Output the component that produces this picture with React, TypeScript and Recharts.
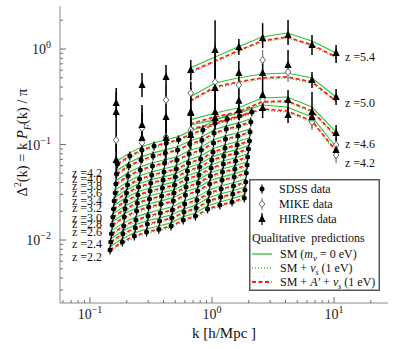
import React from 'react';
import { ComposedChart, Line, Scatter, XAxis, YAxis, ErrorBar, ReferenceDot, Legend } from 'recharts';

const FONT = '"Liberation Serif", "Times New Roman", Times, serif';
const GREEN = '#34c134';
const RED = '#ff1c1c';
const FRAME = '#8c8c8c';
const TICK_COLOR = '#6f6f6f';

// ---------- SDSS (z = 2.2 ... 4.2) ----------
const SDSS_Z = ['2.2', '2.4', '2.6', '2.8', '3.0', '3.2', '3.4', '3.6', '3.8', '4.0', '4.2'];

const K_22 = [0.146, 0.184, 0.231, 0.291, 0.367, 0.462, 0.581, 0.732, 0.921, 1.16, 1.46, 1.84];
const K_24 = [0.148, 0.186, 0.235, 0.295, 0.372, 0.468, 0.589, 0.742, 0.934, 1.18, 1.48, 1.86];
const K_26 = [0.15, 0.189, 0.238, 0.299, 0.377, 0.474, 0.597, 0.752, 0.947, 1.19, 1.5, 1.89];
const K_28 = [0.152, 0.191, 0.241, 0.303, 0.382, 0.481, 0.605, 0.762, 0.959, 1.21, 1.52, 1.91];
const K_30 = [0.154, 0.194, 0.244, 0.307, 0.387, 0.487, 0.613, 0.772, 0.972, 1.22, 1.54, 1.94];
const K_32 = [0.156, 0.196, 0.247, 0.311, 0.392, 0.493, 0.621, 0.782, 0.984, 1.24, 1.56, 1.96];
const K_34 = [0.158, 0.199, 0.25, 0.315, 0.397, 0.5, 0.629, 0.792, 0.997, 1.25, 1.58, 1.99];
const K_36 = [0.161, 0.203, 0.255, 0.321, 0.404, 0.509, 0.641, 0.807, 1.02, 1.28, 1.61, 2.03];
const K_38 = [0.163, 0.205, 0.258, 0.325, 0.409, 0.515, 0.649, 0.817, 1.03, 1.29, 1.63, 2.05];
const K_40 = [0.165, 0.208, 0.262, 0.329, 0.414, 0.522, 0.657, 0.827, 1.04, 1.31, 1.65, 2.08];
const K_42 = [0.168, 0.212, 0.266, 0.335, 0.422, 0.531, 0.669, 0.842, 1.06, 1.33, 1.68, 2.12];

const D_22 = [0.00786, 0.00953, 0.011, 0.0121, 0.013, 0.014, 0.0162, 0.0178, 0.0211, 0.0232, 0.025, 0.0275];
const D_24 = [0.00953, 0.0116, 0.0134, 0.0147, 0.0158, 0.017, 0.0196, 0.0216, 0.0256, 0.0282, 0.0303, 0.0333];
const D_26 = [0.0116, 0.014, 0.0162, 0.0178, 0.0192, 0.0206, 0.0238, 0.0262, 0.031, 0.0342, 0.0368, 0.0405];
const D_28 = [0.0144, 0.0174, 0.0201, 0.0222, 0.0238, 0.0256, 0.0296, 0.0326, 0.0386, 0.0424, 0.0456, 0.0503];
const D_30 = [0.0174, 0.0211, 0.0244, 0.0269, 0.0289, 0.031, 0.0359, 0.0396, 0.0468, 0.0515, 0.0554, 0.061];
const D_32 = [0.0211, 0.0256, 0.0296, 0.0326, 0.035, 0.0376, 0.0435, 0.0479, 0.0567, 0.0625, 0.0672, 0.074];
const D_34 = [0.0256, 0.031, 0.0359, 0.0396, 0.0424, 0.0456, 0.0528, 0.0581, 0.0687, 0.0757, 0.0814, 0.0897];
const D_36 = [0.031, 0.0376, 0.0435, 0.0479, 0.0515, 0.0554, 0.064, 0.0704, 0.0834, 0.0919, 0.0988, 0.109];
const D_38 = [0.0386, 0.0468, 0.054, 0.0596, 0.064, 0.0687, 0.0795, 0.0875, 0.104, 0.114, 0.123, 0.135];
const D_40 = [0.0491, 0.0596, 0.0687, 0.0757, 0.0814, 0.0875, 0.101, 0.111, 0.132, 0.145, 0.156, 0.172];
const D_42 = [0.0625, 0.0757, 0.0875, 0.0964, 0.104, 0.112, 0.129, 0.142, 0.168, 0.185, 0.199, 0.219];

const SDSS_K = [K_22, K_24, K_26, K_28, K_30, K_32, K_34, K_36, K_38, K_40, K_42];
const SDSS_D = [D_22, D_24, D_26, D_28, D_30, D_32, D_34, D_36, D_38, D_40, D_42];

// qualitative model suppression relative to the plotted reference values
const MODEL_RATIO_SDSS = { sm: 1.08, nus: 0.965, aprime: 1.0 };
const MODEL_RATIO_HIRES = { sm: 1.0, nus: 0.885, aprime: 0.91 };

// ---------- HIRES / MIKE (z = 4.2 ... 5.4) ----------
const HR_Z = ['4.2', '4.6', '5.0', '5.4'];
const HR_K = [0.66, 1.06, 1.63, 2.57, 4.12, 6.6, 10.4];
const HR_SM_42 = [0.16, 0.181, 0.214, 0.259, 0.247, 0.194, 0.0942];
const HR_SM_46 = [0.181, 0.214, 0.241, 0.307, 0.314, 0.247, 0.135];
const HR_SM_50 = [0.314, 0.441, 0.497, 0.547, 0.561, 0.497, 0.314];
const HR_SM_54 = [0.632, 0.824, 1.05, 1.336, 1.47, 1.213, 0.908];
const HR_SM = [HR_SM_42, HR_SM_46, HR_SM_50, HR_SM_54];

// [k, Δ², error low, error high]
const HIRES_54 = [
  [0.164, 0.272, 0.082, 0.118], [0.267, 0.42, 0.105, 0.141], [0.42, 0.509, 0.154, 0.171],
  [0.67, 0.603, 0.129, 0.165], [1.06, 0.976, 0.555, 1.03], [1.66, 1.05, 0.185, 0.224],
  [2.6, 1.3, 0.278, 0.566], [4.2, 1.4, 0.3, 0.609], [6.6, 1.1, 0.235, 0.3], [10.4, 0.908, 0.194, 0.193],
];
const HIRES_50 = [
  [0.164, 0.219, 0.135, 0.136], [0.267, 0.16, 0.061, 0.099], [0.42, 0.194, 0.074, 0.16],
  [0.67, 0.214, 0.097, 0.177], [1.06, 0.391, 0.222, 0.516], [1.66, 0.561, 0.141, 0.188],
  [2.6, 0.561, 0.12, 0.188], [4.2, 0.68, 0.146, 0.296], [6.6, 0.474, 0.083, 0.101], [10.4, 0.314, 0.055, 0.067],
];
const HIRES_46 = [
  [0.164, 0.0689, 0.026, 0.043], [0.267, 0.117, 0.053, 0.097], [0.42, 0.117, 0.053, 0.072],
  [0.67, 0.219, 0.113, 0.232], [1.06, 0.219, 0.066, 0.136], [1.66, 0.287, 0.066, 0.103],
  [2.6, 0.33, 0.071, 0.111], [4.2, 0.292, 0.062, 0.08], [6.6, 0.219, 0.055, 0.136], [10.4, 0.132, 0.023, 0.028],
];
const HIRES_42 = [
  [0.67, 0.126, 0.038, 0.055], [1.06, 0.189, 0.047, 0.063], [1.66, 0.23, 0.049, 0.063],
  [2.6, 0.241, 0.052, 0.066], [4.2, 0.204, 0.036, 0.043], [6.6, 0.194, 0.034, 0.041], [10.4, 0.0876, 0.0118, 0.0137],
];
const MIKE_54 = [[0.42, 0.292, 0.088, 0.127], [1.06, 0.451, 0.232, 0.73], [2.6, 0.767, 0.164, 0.209]];
const MIKE_50 = [
  [0.164, 0.111, 0.05, 0.069], [0.267, 0.149, 0.057, 0.092], [0.67, 0.346, 0.157, 0.286],
  [1.66, 0.42, 0.09, 0.115], [4.2, 0.574, 0.123, 0.157],
];
const MIKE_46 = [
  [0.164, 0.0656, 0.02, 0.029], [0.267, 0.104, 0.032, 0.045], [0.42, 0.12, 0.036, 0.052],
  [0.67, 0.142, 0.043, 0.062], [2.6, 0.292, 0.062, 0.08], [6.6, 0.189, 0.04, 0.052], [10.4, 0.0988, 0.017, 0.021],
];
const MIKE_42 = [[6.6, 0.172, 0.03, 0.037], [10.4, 0.0776, 0.014, 0.017]];

// ---------- axes ----------
const X_DOMAIN = [0.0568, 27.7];
const Y_DOMAIN = [0.00219, 2.82];
const X_MAJOR = [0.1, 1, 10];
const X_MINOR = [0.06, 0.07, 0.08, 0.09, 0.2, 0.3, 0.4, 0.5, 0.6, 0.7, 0.8, 0.9, 2, 3, 4, 5, 6, 7, 8, 9, 20];
const Y_MAJOR = [0.01, 0.1, 1];
const Y_MINOR = [0.003, 0.004, 0.005, 0.006, 0.007, 0.008, 0.009, 0.02, 0.03, 0.04, 0.05, 0.06, 0.07, 0.08, 0.09, 0.2, 0.3, 0.4, 0.5, 0.6, 0.7, 0.8, 0.9, 2];
const EXPONENT: Record<string, string> = { '0.01': '\u22122', '0.1': '\u22121', '1': '0', '10': '1' };
const X_TICKS = [...X_MAJOR, ...X_MINOR].sort((a, b) => a - b);
const Y_TICKS = [...Y_MAJOR, ...Y_MINOR].sort((a, b) => a - b);

// redshift text labels: [z, k, Δ²]
const LEFT_LABELS: [string, number, number][] = [
  ['4.2', 0.0712, 0.0503], ['4.0', 0.0712, 0.0435], ['3.8', 0.0712, 0.0368], ['3.6', 0.0712, 0.031],
  ['3.4', 0.0712, 0.0256], ['3.2', 0.0712, 0.0216], ['3.0', 0.0712, 0.017], ['2.8', 0.0712, 0.0147],
  ['2.6', 0.0712, 0.0121], ['2.4', 0.0712, 0.00908], ['2.2', 0.0712, 0.00664],
];
const RIGHT_LABELS: [string, number, number][] = [
  ['5.4', 12.3, 0.824], ['5.0', 12.3, 0.272], ['4.6', 12.3, 0.101], ['4.2', 12.3, 0.064],
];

// ---------- derived series ----------
type Pt = { k: number; d: number; e?: number[] };
const lineSeries: { key: string; kind: 'sm' | 'nus' | 'aprime'; data: Pt[] }[] = [];
const KINDS: ('sm' | 'nus' | 'aprime')[] = ['sm', 'nus', 'aprime'];
SDSS_Z.forEach((z, i) => {
  KINDS.forEach((kind) => {
    lineSeries.push({
      key: `sdss-${kind}-${z}`,
      kind,
      data: SDSS_K[i].map((k, j) => ({ k, d: SDSS_D[i][j] * MODEL_RATIO_SDSS[kind] })),
    });
  });
});
HR_Z.forEach((z, i) => {
  KINDS.forEach((kind) => {
    lineSeries.push({
      key: `hr-${kind}-${z}`,
      kind,
      data: HR_K.map((k, j) => ({ k, d: HR_SM[i][j] * MODEL_RATIO_HIRES[kind] })),
    });
  });
});
const sdssPoints: Pt[] = [];
SDSS_Z.forEach((_, i) => SDSS_K[i].forEach((k, j) => sdssPoints.push({ k, d: SDSS_D[i][j] })));
const toPt = (r: number[]): Pt => ({ k: r[0], d: r[1], e: [r[2], r[3]] });
const hiresPoints = [...HIRES_42, ...HIRES_46, ...HIRES_50, ...HIRES_54].map(toPt);
const mikePoints = [...MIKE_42, ...MIKE_46, ...MIKE_50, ...MIKE_54].map(toPt);

const lineStyle = (kind: string) => {
  if (kind === 'sm') return { stroke: GREEN, strokeWidth: 1.1 };
  if (kind === 'nus') return { stroke: GREEN, strokeWidth: 1.3, strokeDasharray: '1 2' };
  return { stroke: RED, strokeWidth: 1.7, strokeDasharray: '4 2.5' };
};

// ---------- markers ----------
const SdssMarker = (p: any) => (
  <g>
    <line x1={p.cx} x2={p.cx} y1={p.cy - 4.5} y2={p.cy + 4.5} stroke="#000" strokeWidth={1.2} />
    <circle cx={p.cx} cy={p.cy} r={2.5} fill="#000" />
  </g>
);
const HiresMarker = (p: any) => (
  <polygon
    points={`${p.cx},${p.cy - 4.5} ${p.cx - 3.6},${p.cy + 3} ${p.cx + 3.6},${p.cy + 3}`}
    fill="#000"
  />
);
const MikeMarker = (p: any) => (
  <polygon
    points={`${p.cx},${p.cy - 3.6} ${p.cx + 2.8},${p.cy} ${p.cx},${p.cy + 3.6} ${p.cx - 2.8},${p.cy}`}
    fill="#fff"
    stroke="#6a6a6a"
    strokeWidth={1}
  />
);

// ---------- ticks ----------
const BottomTick = (p: any) => {
  const v = p.payload.value;
  const major = X_MAJOR.includes(v);
  return (
    <g>
      <line x1={p.x} x2={p.x} y1={p.y} y2={p.y - (major ? 6 : 3)} stroke={TICK_COLOR} />
      {major && (
        <text x={p.x} y={p.y + 16} textAnchor="middle" fontFamily={FONT} fontSize={14} fill="#222">
          10<tspan dy={-6} fontSize={10}>{EXPONENT[String(v)]}</tspan>
        </text>
      )}
    </g>
  );
};
const TopTick = (p: any) => {
  const major = X_MAJOR.includes(p.payload.value);
  return <line x1={p.x} x2={p.x} y1={p.y} y2={p.y + (major ? 6 : 3)} stroke={TICK_COLOR} />;
};
const LeftTick = (p: any) => {
  const v = p.payload.value;
  const major = Y_MAJOR.includes(v);
  return (
    <g>
      <line x1={p.x} x2={p.x + (major ? 6 : 3)} y1={p.y} y2={p.y} stroke={TICK_COLOR} />
      {major && (
        <text x={p.x - 9} y={p.y + 5} textAnchor="end" fontFamily={FONT} fontSize={14} fill="#222">
          10<tspan dy={-6} fontSize={10}>{EXPONENT[String(v)]}</tspan>
        </text>
      )}
    </g>
  );
};
const RightTick = (p: any) => {
  const major = Y_MAJOR.includes(p.payload.value);
  return <line x1={p.x} x2={p.x - (major ? 6 : 3)} y1={p.y} y2={p.y} stroke={TICK_COLOR} />;
};

const XLabel = (p: any) => {
  const vb = p.viewBox;
  return (
    <text x={vb.x + vb.width / 2} y={vb.y + 35} textAnchor="middle" fontFamily={FONT} fontSize={15} fill="#111">
      k [h/Mpc ]
    </text>
  );
};
const YLabel = (p: any) => {
  const vb = p.viewBox;
  const cx = vb.x + 27;
  const cy = vb.y + vb.height / 2 - 12;
  return (
    <text
      x={cx}
      y={cy}
      transform={`rotate(-90, ${cx}, ${cy})`}
      textAnchor="middle"
      fontFamily={FONT}
      fontSize={14.5}
      fill="#111"
    >
      Δ<tspan dy={-6} fontSize={9.5}>2</tspan>
      <tspan dy={6}>(k) = k </tspan>
      <tspan fontStyle="italic">P</tspan>
      <tspan dy={4} fontSize={10} fontStyle="italic">F</tspan>
      <tspan dy={-4}>(k) / π</tspan>
    </text>
  );
};

const LegendBox = () => (
  <svg width={131} height={112} style={{ display: 'block' }}>
    <rect x={0.75} y={0.75} width={129.5} height={110.5} fill="#fff" stroke="#555" strokeWidth={1.5} />
    <g fontFamily={FONT} fontSize={12} fill="#111">
      <SdssMarker cx={13} cy={10} />
      <text x={30} y={14}>SDSS data</text>
      <line x1={13} x2={13} y1={19} y2={31} stroke="#777" />
      <MikeMarker cx={13} cy={25} />
      <text x={30} y={29}>MIKE data</text>
      <line x1={13} x2={13} y1={34} y2={46} stroke="#000" strokeWidth={1.2} />
      <HiresMarker cx={13} cy={40} />
      <text x={30} y={44}>HIRES data</text>
      <text x={3} y={63}>
        Qualitative<tspan dx={6}>predictions</tspan>
      </text>
      <line x1={3} x2={23} y1={75} y2={75} stroke={GREEN} strokeWidth={1.3} />
      <text x={31} y={79}>
        SM (<tspan fontStyle="italic">m</tspan>
        <tspan dy={3} fontSize={9} fontStyle="italic">ν</tspan>
        <tspan dy={-3}> = 0 eV)</tspan>
      </text>
      <line x1={3} x2={23} y1={89} y2={89} stroke={GREEN} strokeWidth={1.3} strokeDasharray="1 2" />
      <text x={31} y={93}>
        SM + <tspan fontStyle="italic">ν</tspan>
        <tspan dy={3} fontSize={8} fontStyle="italic">s</tspan>
        <tspan dy={-3}> (1 eV)</tspan>
      </text>
      <line x1={3} x2={23} y1={103} y2={103} stroke={RED} strokeWidth={2} strokeDasharray="4 2.5" />
      <text x={31} y={107}>
        SM + <tspan fontStyle="italic">A′</tspan> + <tspan fontStyle="italic">ν</tspan>
        <tspan dy={3} fontSize={8} fontStyle="italic">s</tspan>
        <tspan dy={-3}> (1 eV)</tspan>
      </text>
    </g>
  </svg>
);

const zText = (label: string) => (p: any) => (
  <text x={p.cx} y={p.cy} dy={4} textAnchor="start" fontFamily={FONT} fontSize={12} fill="#111">
    {'z =' + label}
  </text>
);

export default function App() {
  return (
    <div style={{ position: 'absolute', left: 0, top: 0, width: 395, height: 349, background: '#fff' }}>
      <ComposedChart width={395} height={349} margin={{ top: 6, right: 7, bottom: 0, left: 0 }}>
        <XAxis
          dataKey="k"
          type="number"
          scale="log"
          domain={X_DOMAIN}
          allowDataOverflow
          ticks={X_TICKS}
          interval={0}
          height={46}
          tickSize={0}
          tickMargin={0}
          tickLine={false}
          tick={BottomTick}
          axisLine={{ stroke: FRAME }}
          label={{ content: XLabel }}
        />
        <XAxis
          xAxisId="top"
          orientation="top"
          type="number"
          scale="log"
          domain={X_DOMAIN}
          allowDataOverflow
          ticks={X_TICKS}
          interval={0}
          height={0}
          tickSize={0}
          tickMargin={0}
          tickLine={false}
          tick={TopTick}
          axisLine={{ stroke: FRAME }}
        />
        <YAxis
          dataKey="d"
          type="number"
          scale="log"
          domain={Y_DOMAIN}
          allowDataOverflow
          ticks={Y_TICKS}
          interval={0}
          width={60}
          tickSize={0}
          tickMargin={0}
          tickLine={false}
          tick={LeftTick}
          axisLine={{ stroke: FRAME }}
          label={{ content: YLabel }}
        />
        <YAxis
          yAxisId="right"
          orientation="right"
          type="number"
          scale="log"
          domain={Y_DOMAIN}
          allowDataOverflow
          ticks={Y_TICKS}
          interval={0}
          width={0}
          tickSize={0}
          tickMargin={0}
          tickLine={false}
          tick={RightTick}
          axisLine={{ stroke: FRAME }}
        />
        {lineSeries.map((s) => (
          <Line
            key={s.key}
            data={s.data}
            dataKey="d"
            type="linear"
            dot={false}
            activeDot={false}
            isAnimationActive={false}
            {...lineStyle(s.kind)}
          />
        ))}
        <Scatter data={mikePoints} dataKey="d" shape={MikeMarker} isAnimationActive={false}>
          <ErrorBar dataKey="e" direction="y" width={0} stroke="#777" strokeWidth={1.2} />
        </Scatter>
        <Scatter data={hiresPoints} dataKey="d" shape={HiresMarker} isAnimationActive={false}>
          <ErrorBar dataKey="e" direction="y" width={0} stroke="#000" strokeWidth={1.5} />
        </Scatter>
        <Scatter data={sdssPoints} dataKey="d" shape={SdssMarker} isAnimationActive={false} />
        {LEFT_LABELS.map(([z, k, d]) => (
          <ReferenceDot key={`l-${z}`} x={k} y={d} r={0} shape={zText(z)} />
        ))}
        {RIGHT_LABELS.map(([z, k, d]) => (
          <ReferenceDot key={`r-${z}`} x={k} y={d} r={0} shape={zText(z)} />
        ))}
        <Legend
          verticalAlign="middle"
          align="center"
          layout="horizontal"
          content={() => <LegendBox />}
          wrapperStyle={{ left: 249, top: 179, width: 131, height: 112 }}
        />
      </ComposedChart>
    </div>
  );
}
